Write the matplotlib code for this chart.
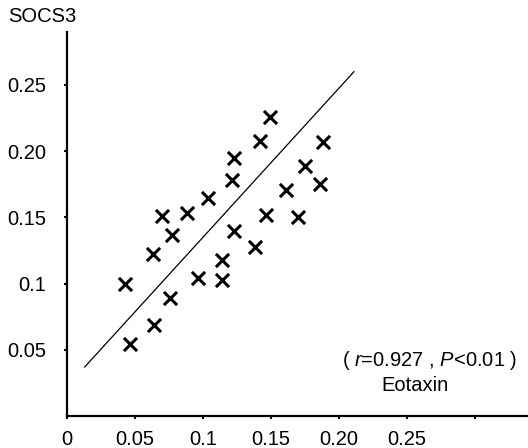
import numpy as np
import matplotlib
matplotlib.use("Agg")
import matplotlib.pyplot as plt

plt.rcParams["font.family"] = ["Liberation Sans", "DejaVu Sans"]
plt.rcParams["mathtext.fontset"] = "custom"
plt.rcParams["mathtext.rm"] = "Liberation Sans"
plt.rcParams["mathtext.it"] = "Liberation Sans:italic"

# Eotaxin (x) vs SOCS3 (y)
eotaxin = [0.046, 0.043, 0.064, 0.076, 0.063, 0.077, 0.070, 0.088,
           0.096, 0.114, 0.114, 0.104, 0.123, 0.121, 0.123, 0.138,
           0.146, 0.142, 0.149, 0.161, 0.170, 0.175, 0.186, 0.188]
socs3 = [0.054, 0.100, 0.069, 0.089, 0.122, 0.137, 0.151, 0.153,
         0.104, 0.103, 0.118, 0.165, 0.140, 0.178, 0.195, 0.128,
         0.152, 0.208, 0.226, 0.171, 0.150, 0.189, 0.175, 0.207]

# regression line ends
fit_x = [0.013, 0.211]
fit_y = [0.037, 0.260]

xticks = [0, 0.05, 0.1, 0.15, 0.20, 0.25, 0.30]
xtick_labels = ["0", "0.05", "0.1", "0.15", "0.20", "0.25", ""]
yticks = [0.05, 0.1, 0.15, 0.20, 0.25]
ytick_labels = ["0.05", "0.1", "0.15", "0.20", "0.25"]

fs = 14.5

fig = plt.figure(figsize=(5.28, 4.48), dpi=100)
ax = fig.add_axes([67 / 528, 32 / 448, 1 - 67 / 528, 384 / 448])

ax.scatter(eotaxin, socs3, marker="x", s=90, c="black", linewidths=2.2)
ax.plot(fit_x, fit_y, color="black", lw=0.9)

ax.set_xlim(0, 0.339)
ax.set_ylim(0, 0.29)
ax.set_xticks(xticks)
ax.set_xticklabels(xtick_labels)
ax.set_yticks(yticks)
ax.set_yticklabels(ytick_labels)

for s in ["top", "right"]:
    ax.spines[s].set_visible(False)
for s in ["left", "bottom"]:
    ax.spines[s].set_linewidth(1.6)

ax.tick_params(axis="x", length=2, width=1.5, pad=8, labelsize=fs)
ax.tick_params(axis="y", length=2, width=1.5, pad=13, labelsize=fs)

fig.text(8 / 528, 1 - 17 / 448, "SOCS3", fontsize=fs, va="center", ha="left")
fig.text(430 / 528, 1 - 360 / 448, r"( $\it{r}$=0.927 , $\it{P}$<0.01 )",
         fontsize=fs, va="center", ha="center")
fig.text(415 / 528, 1 - 385 / 448, "Eotaxin", fontsize=fs, va="center", ha="center")

fig.savefig("out.png", dpi=100)
